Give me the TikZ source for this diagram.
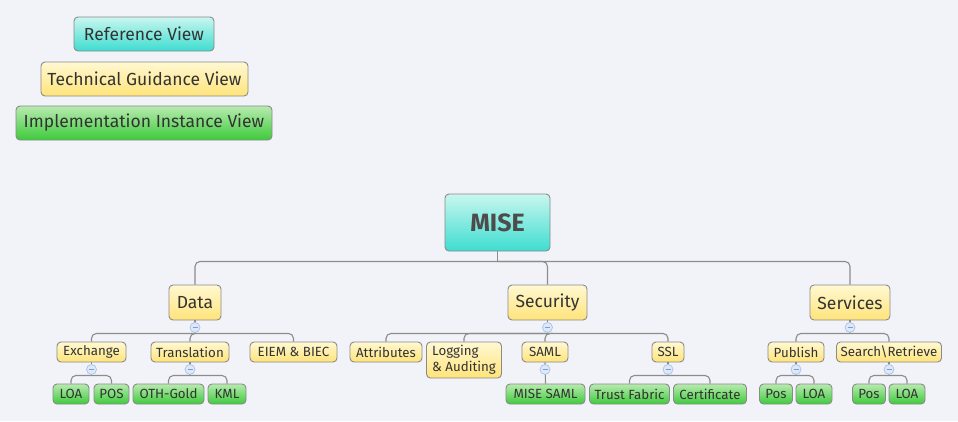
\documentclass[tikz,border=0pt]{standalone}
\usepackage{fontspec}
\setmainfont{Fira Sans}
\usetikzlibrary{calc}
\definecolor{bgcol}{HTML}{F2F3F8}
\definecolor{linecol}{HTML}{8C8C8C}
\definecolor{boxline}{HTML}{8A8A8A}
\definecolor{txtcol}{HTML}{333333}
\definecolor{cya1}{HTML}{C9F6EF}
\definecolor{cya2}{HTML}{3EDDD0}
\definecolor{yel1}{HTML}{FFF8D2}
\definecolor{yel2}{HTML}{FFE47A}
\definecolor{grn1}{HTML}{B8EBB0}
\definecolor{grn2}{HTML}{3DCB3A}
\definecolor{colline}{HTML}{A9C3EA}
\definecolor{colfill}{HTML}{DDE8F8}
\definecolor{colminus}{HTML}{7F9CCB}
\tikzset{
  box/.style={draw=boxline, line width=0.9pt, rounded corners=4pt, inner sep=0pt, text=txtcol, align=center},
  cyanbox/.style={box, top color=cya1, bottom color=cya2},
  yellowbox/.style={box, top color=yel1, bottom color=yel2},
  greenbox/.style={box, top color=grn1, bottom color=grn2},
  small/.style={minimum height=20pt, font=\fontsize{13.3}{14}\selectfont},
  mid/.style={yellowbox, minimum height=35pt, font=\fontsize{17.5}{18}\selectfont},
  legend/.style={minimum height=34pt, font=\fontsize{17.5}{18}\selectfont},
  conn/.style={draw=linecol, line width=1.1pt, rounded corners=5pt},
  collapse/.style={circle, draw=colline, fill=colfill, line width=0.7pt, minimum size=10pt, inner sep=0pt,
     path picture={\draw[colminus, line width=0.8pt] ($(path picture bounding box.center)+(-2.5pt,0)$) -- ($(path picture bounding box.center)+(2.5pt,0)$);}},
}
\begin{document}
\begin{tikzpicture}[x=1pt, y=-1pt]
\useasboundingbox (0,0) rectangle (958,421);
\fill[bgcol] (0,0) rectangle (958,421);

% legend
\node[cyanbox, legend, minimum width=140pt] (ref) at (144,34) {Reference View};
\node[yellowbox, legend, minimum width=207pt] (tech) at (144.5,79) {Technical Guidance View};
\node[greenbox, legend, minimum width=256pt] (impl) at (144,123) {Implementation Instance View};

% root
\node[cyanbox, minimum width=105pt, minimum height=57pt, font=\fontsize{25}{27}\selectfont\bfseries, text=black!70] (mise) at (497.5,222.5) {MISE};

% level 1
\node[mid, minimum width=52pt] (data) at (195,302.5) {Data};
\node[mid, minimum width=79pt] (sec) at (547.5,302.5) {Security};
\node[mid, minimum width=80pt] (serv) at (850,302.5) {Services};

% level 2
\node[yellowbox, small, minimum width=69pt] (exch) at (91.5,352) {Exchange};
\node[yellowbox, small, minimum width=78pt] (trans) at (190,352) {Translation};
\node[yellowbox, small, minimum width=87pt] (eiem) at (293.5,352) {EIEM \& BIEC};
\node[yellowbox, small, minimum width=72pt] (attr) at (386,352) {Attributes};
\node[yellowbox, small, minimum width=75pt, minimum height=36pt, align=left, font=\fontsize{13.3}{16}\selectfont] (log) at (464,360) {Logging\\\& Auditing};
\node[yellowbox, small, minimum width=46pt] (saml) at (545,352) {SAML};
\node[yellowbox, small, minimum width=32pt] (ssl) at (668,352) {SSL};
\node[yellowbox, small, minimum width=56pt] (pub) at (796,352) {Publish};
\node[yellowbox, small, minimum width=105pt] (search) at (889,352) {Search\textbackslash Retrieve};

% level 3
\node[greenbox, small, minimum width=36pt] (loa1) at (71,394) {LOA};
\node[greenbox, small, minimum width=35pt] (pos1) at (111.5,394) {POS};
\node[greenbox, small, minimum width=71pt] (oth) at (168.5,394) {OTH-Gold};
\node[greenbox, small, minimum width=38pt] (kml) at (227,394) {KML};
\node[greenbox, small, minimum width=79pt] (misesaml) at (545.5,394) {MISE SAML};
\node[greenbox, small, minimum width=80pt] (trust) at (629.5,394) {Trust Fabric};
\node[greenbox, small, minimum width=73pt] (cert) at (710,394) {Certificate};
\node[greenbox, small, minimum width=33pt] (pos2) at (776,394) {Pos};
\node[greenbox, small, minimum width=36pt] (loa2) at (814,394) {LOA};
\node[greenbox, small, minimum width=33pt] (pos3) at (869,394) {Pos};
\node[greenbox, small, minimum width=36pt] (loa3) at (907,394) {LOA};

% bus coordinates
\coordinate (b0) at ($(mise.south)+(0,10)$);
\coordinate (b1) at ($(data.south)+(0,13)$);
\coordinate (b2) at ($(sec.south)+(0,13)$);
\coordinate (b3) at ($(serv.south)+(0,13)$);
\coordinate (b4) at ($(exch.south)+(0,13)$);
\coordinate (b5) at ($(trans.south)+(0,13)$);
\coordinate (b7) at ($(ssl.south)+(0,13)$);
\coordinate (b8) at ($(pub.south)+(0,13)$);
\coordinate (b9) at ($(search.south)+(0,13)$);

% connectors
\draw[conn] (mise.south) -- (b0);
\draw[conn] (data.north) |- (b0) -| (serv.north);
\draw[conn] (b0) -| (sec.north);

\draw[conn] (data.south) -- (b1);
\draw[conn] (exch.north) |- (b1) -| (eiem.north);
\draw[conn] (b1) -| (trans.north);

\draw[conn] (sec.south) -- (b2);
\draw[conn] (attr.north) |- (b2) -| (ssl.north);
\draw[conn] (b2) -| (log.north);
\draw[conn] (b2) -| (saml.north);

\draw[conn] (serv.south) -- (b3);
\draw[conn] (pub.north) |- (b3) -| (search.north);

\draw[conn] (exch.south) -- (b4);
\draw[conn] (loa1.north) |- (b4) -| (pos1.north);
\draw[conn] (trans.south) -- (b5);
\draw[conn] (oth.north) |- (b5) -| (kml.north);
\draw[conn] (saml.south) -- (misesaml.north);
\draw[conn] (ssl.south) -- (b7);
\draw[conn] (trust.north) |- (b7) -| (cert.north);
\draw[conn] (pub.south) -- (b8);
\draw[conn] (pos2.north) |- (b8) -| (loa2.north);
\draw[conn] (search.south) -- (b9);
\draw[conn] (pos3.north) |- (b9) -| (loa3.north);

% collapse markers
\node[collapse] (c1) at ($(data.south)+(0,7)$) {};
\node[collapse] (c2) at ($(sec.south)+(0,7)$) {};
\node[collapse] (c3) at ($(serv.south)+(0,7)$) {};
\node[collapse] (c4) at ($(exch.south)+(0,7)$) {};
\node[collapse] (c5) at ($(trans.south)+(0,7)$) {};
\node[collapse] (c6) at ($(saml.south)+(0,7)$) {};
\node[collapse] (c7) at ($(ssl.south)+(0,7)$) {};
\node[collapse] (c8) at ($(pub.south)+(0,7)$) {};
\node[collapse] (c9) at ($(search.south)+(0,7)$) {};
\end{tikzpicture}
\end{document}
